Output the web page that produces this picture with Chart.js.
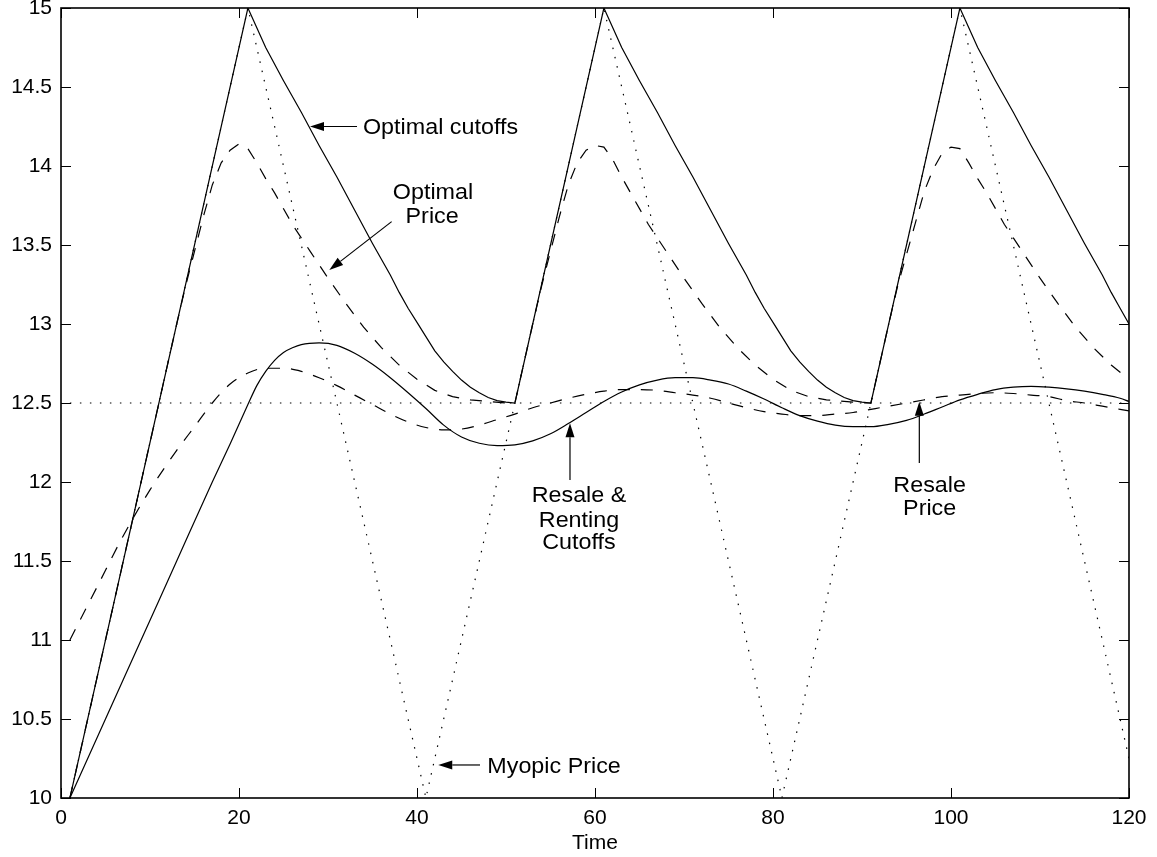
<!DOCTYPE html>
<html><head><meta charset="utf-8">
<script src="https://cdn.jsdelivr.net/npm/chart.js@4.4.0/dist/chart.umd.min.js"></script>
<style>html,body{margin:0;padding:0;background:#fff;}</style>
</head><body>
<canvas id="c" width="1157" height="857"></canvas>
<script>
// ---- axis ticks ----
const xTicks = [0, 20, 40, 60, 80, 100, 120];
const xTickLabels = ['0', '20', '40', '60', '80', '100', '120'];
const yTicks = [10, 10.5, 11, 11.5, 12, 12.5, 13, 13.5, 14, 14.5, 15];
const yTickLabels = ['10', '10.5', '11', '11.5', '12', '12.5', '13', '13.5', '14', '14.5', '15'];

// ---- Optimal cutoffs (solid) ----
const cutT = [1,21,23,25,27,29,31,33,35,37,38,39,40,41,42,43,44,45,46,47,48,49,50,51,
  61,63,65,67,69,71,73,75,77,78,79,80,81,82,83,84,85,86,87,88,89,90,91,
  101,103,105,107,109,111,113,115,117,118,119,120];
const cutV = [10,15,14.75,14.54,14.34,14.13,13.93,13.72,13.51,13.31,13.20,13.10,13.01,12.92,12.83,12.76,12.70,12.645,12.60,12.565,12.535,12.515,12.505,12.50,
  15,14.75,14.54,14.34,14.13,13.93,13.72,13.51,13.31,13.20,13.10,13.01,12.92,12.83,12.76,12.70,12.645,12.60,12.565,12.535,12.515,12.505,12.50,
  15,14.75,14.54,14.34,14.13,13.93,13.72,13.51,13.31,13.20,13.10,13.0];

// ---- Optimal price (dashed) ----
const priceT = [1,5,9,13,14,15,16,17,18,19,20,21,22,23,24,26,28,30,32,34,36,38,40,42,44,46,48,50,51,
  53,54,55,56,57,58,59,60,61,62,63,64,66,68,70,72,74,76,78,80,82,84,86,88,90,91,
  93,94,95,96,97,98,99,100,101,102,103,104,106,108,110,112,114,116,118,120];
const priceV = [10,11,12,13,13.24,13.46,13.68,13.88,14.02,14.10,14.14,14.11,14.02,13.92,13.83,13.63,13.46,13.29,13.13,12.98,12.85,12.74,12.65,12.58,12.54,12.52,12.51,12.50,12.50,
  13.0,13.24,13.46,13.68,13.88,14.02,14.10,14.13,14.12,14.04,13.93,13.83,13.63,13.46,13.29,13.13,12.98,12.85,12.74,12.65,12.58,12.54,12.52,12.51,12.50,12.50,
  13.0,13.24,13.44,13.64,13.84,13.98,14.08,14.12,14.11,14.02,13.92,13.83,13.63,13.46,13.29,13.13,12.98,12.85,12.74,12.65];

// ---- Resale & renting cutoffs (solid) ----
const rrT = [1,5,9,13,17,19,21,22,23,24,25,26,27,29,31,33,35,37,39,41,43,45,47,49,51,53,55,57,59,61,63,65,67,69,71,73,75,77,79,81,83,85,87,89,91,93,95,97,99,101,103,105,107,109,111,113,115,117,119,120];
const rrV = [10,10.5,11.0,11.5,12.0,12.24,12.49,12.61,12.70,12.77,12.82,12.85,12.87,12.88,12.865,12.815,12.745,12.66,12.565,12.465,12.36,12.285,12.245,12.23,12.235,12.26,12.305,12.37,12.44,12.51,12.57,12.615,12.645,12.66,12.66,12.645,12.62,12.575,12.525,12.47,12.42,12.385,12.36,12.35,12.35,12.365,12.39,12.43,12.475,12.52,12.555,12.585,12.60,12.605,12.60,12.59,12.575,12.555,12.53,12.51];

// ---- Resale price (dashed) ----
const resT = [1,4,7,10,13,15,17,19,21,23,25,27,29,31,33,35,37,39,41,43,45,47,49,51,53,55,57,59,61,63,65,67,69,71,73,75,77,79,81,83,85,87,89,91,93,95,97,99,101,103,105,107,109,111,113,115,117,119,120];
const resV = [11.0,11.33,11.66,11.95,12.2,12.35,12.5,12.62,12.69,12.72,12.72,12.70,12.66,12.61,12.55,12.49,12.43,12.38,12.345,12.33,12.335,12.36,12.395,12.43,12.47,12.50,12.53,12.555,12.575,12.585,12.585,12.58,12.565,12.55,12.53,12.50,12.47,12.445,12.43,12.42,12.42,12.43,12.44,12.46,12.48,12.50,12.52,12.54,12.55,12.56,12.565,12.56,12.55,12.54,12.515,12.50,12.48,12.46,12.45];

// ---- Myopic price (dotted) ----
const myoT = [1, 21, 41, 61, 81, 101, 120];
const myoV = [10, 15, 10, 15, 10, 15, 10.25];

// ---- 12.5 reference (dotted) ----
const refT = [1, 120];
const refV = [12.5, 12.5];

// ---- annotations (data coordinates) ----
const annoLabels = ['Optimal cutoffs', 'Optimal', 'Price', 'Resale &', 'Renting', 'Cutoffs', 'Resale', 'Price', 'Myopic Price'];
const annoT = [33.93, 41.8, 41.7, 58.2, 58.2, 58.2, 97.6, 97.6, 47.9];
const annoV = [14.25, 13.84, 13.69, 11.924, 11.766, 11.627, 11.987, 11.839, 10.209];
const annoAlign = ['left', 'center', 'center', 'center', 'center', 'center', 'center', 'center', 'left'];
const arrowFromT = [33.26, 37.15, 57.19, 96.44, 47.08];
const arrowFromV = [14.25, 13.648, 12.013, 12.12, 10.209];
const arrowToT = [27.98, 30.15, 57.19, 96.44, 42.39];
const arrowToV = [14.25, 13.342, 12.372, 12.508, 10.209];

const pts = (t, v) => t.map((x, i) => ({ x: x, y: v[i] }));
const FONT = 'Liberation Sans, Arial, Helvetica, sans-serif';

const boxPlugin = {
  id: 'boxPlugin',
  afterDraw(chart) {
    const ctx = chart.ctx;
    const { left, right, top, bottom } = chart.chartArea;
    const xs = chart.scales.x, ys = chart.scales.y;
    ctx.save();
    ctx.strokeStyle = '#000';
    ctx.lineWidth = 1;
    ctx.beginPath();
    xTicks.forEach(v => {
      const px = Math.round(xs.getPixelForValue(v)) + 0.5;
      ctx.moveTo(px, bottom); ctx.lineTo(px, bottom - 10);
      ctx.moveTo(px, top); ctx.lineTo(px, top + 10);
    });
    yTicks.forEach(v => {
      const py = Math.round(ys.getPixelForValue(v)) + 0.5;
      ctx.moveTo(left, py); ctx.lineTo(left + 10, py);
      ctx.moveTo(right, py); ctx.lineTo(right - 10, py);
    });
    ctx.stroke();
    ctx.lineWidth = 1.6;
    ctx.strokeRect(left, top, right - left, bottom - top);

    // arrows
    ctx.lineWidth = 1.2;
    ctx.fillStyle = '#000';
    for (let i = 0; i < arrowFromT.length; i++) {
      const x0 = xs.getPixelForValue(arrowFromT[i]), y0 = ys.getPixelForValue(arrowFromV[i]);
      const x1 = xs.getPixelForValue(arrowToT[i]), y1 = ys.getPixelForValue(arrowToV[i]);
      const ang = Math.atan2(y1 - y0, x1 - x0);
      const hl = 14, hw = 4.5;
      const bx = x1 - hl * Math.cos(ang), by = y1 - hl * Math.sin(ang);
      ctx.beginPath(); ctx.moveTo(x0, y0); ctx.lineTo(bx, by); ctx.stroke();
      ctx.beginPath();
      ctx.moveTo(x1, y1);
      ctx.lineTo(bx + hw * Math.sin(ang), by - hw * Math.cos(ang));
      ctx.lineTo(bx - hw * Math.sin(ang), by + hw * Math.cos(ang));
      ctx.closePath(); ctx.fill();
    }
    // texts
    const size = 22;
    ctx.font = size + 'px ' + FONT;
    ctx.textBaseline = 'alphabetic';
    for (let i = 0; i < annoLabels.length; i++) {
      const px = xs.getPixelForValue(annoT[i]);
      const py = ys.getPixelForValue(annoV[i]) + 0.716 * size / 2;
      ctx.save();
      ctx.translate(px, py);
      ctx.scale(1.06, 1);
      ctx.textAlign = annoAlign[i];
      ctx.fillText(annoLabels[i], 0, 0);
      ctx.restore();
    }
    ctx.restore();
  }
};

const common = { borderColor: '#000', borderWidth: 1.2, pointRadius: 0, fill: false };

new Chart(document.getElementById('c'), {
  type: 'line',
  data: {
    datasets: [
      Object.assign({ label: '12.5', data: pts(refT, refV), tension: 0, borderDash: [1.5, 8.5] }, common),
      Object.assign({ label: 'Myopic Price', data: pts(myoT, myoV), tension: 0, borderDash: [1.5, 8] }, common),
      Object.assign({ label: 'Optimal cutoffs', data: pts(cutT, cutV), tension: 0 }, common),
      Object.assign({ label: 'Optimal Price', data: pts(priceT, priceV), tension: 0, borderDash: [12, 11] }, common),
      Object.assign({ label: 'Resale & Renting Cutoffs', data: pts(rrT, rrV), cubicInterpolationMode: 'monotone' }, common),
      Object.assign({ label: 'Resale Price', data: pts(resT, resV), cubicInterpolationMode: 'monotone', borderDash: [12, 11] }, common)
    ]
  },
  options: {
    responsive: false,
    animation: false,
    layout: { padding: { left: 0, right: 28, top: 8, bottom: 0 } },
    plugins: { legend: { display: false }, tooltip: { enabled: false } },
    scales: {
      x: {
        type: 'linear', min: 0, max: 120,
        afterBuildTicks: s => { s.ticks = xTicks.map(v => ({ value: v })); },
        afterFit: s => { s.height = 59; s.paddingLeft = 0; s.paddingRight = 0; },
        grid: { display: false, drawTicks: false, tickLength: 0 }, border: { display: false },
        ticks: { color: '#000', padding: 8, maxRotation: 0, font: { family: FONT, size: 21 },
          callback: (v, i) => xTickLabels[i] },
        title: { display: true, text: 'Time', color: '#000', font: { family: FONT, size: 21 }, padding: { top: 0, bottom: 1 } }
      },
      y: {
        type: 'linear', min: 10, max: 15,
        afterBuildTicks: s => { s.ticks = yTicks.map(v => ({ value: v })); },
        afterFit: s => { s.width = 61; s.paddingTop = 0; s.paddingBottom = 0; },
        grid: { display: false, drawTicks: false, tickLength: 0 }, border: { display: false },
        ticks: { color: '#000', padding: 9, font: { family: FONT, size: 21 },
          callback: (v, i) => yTickLabels[i] }
      }
    }
  },
  plugins: [boxPlugin]
});
</script>
</body></html>
